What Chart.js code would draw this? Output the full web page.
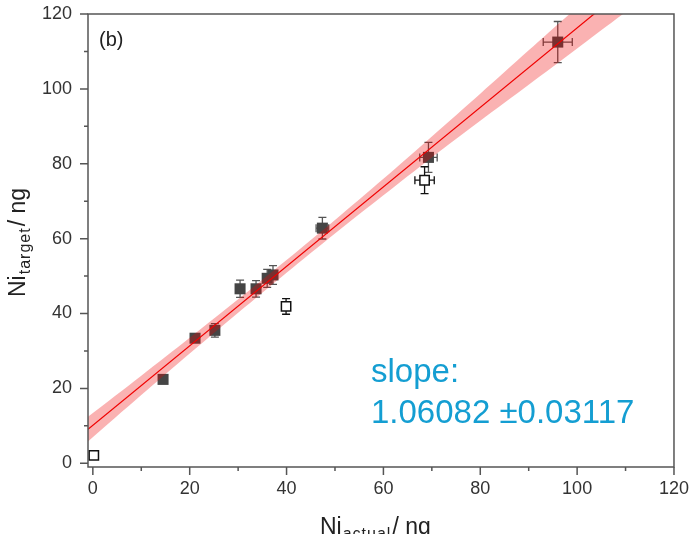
<!DOCTYPE html>
<html>
<head>
<meta charset="utf-8">
<script src="https://cdn.jsdelivr.net/npm/chart.js@4/dist/chart.umd.min.js"></script>
<style>
    html, body { margin: 0; padding: 0; background: #fff; }
    #wrap { width: 692px; height: 534px; position: relative; }
</style>
</head>
<body>
<div id="wrap"><canvas id="grafico" width="692" height="534"></canvas></div>
<script>
// valores
const cheiosX = [14.5, 21.1, 25.2, 30.4, 33.7, 36.0, 37.2, 47.4, 69.3, 96.0];
const cheiosY = [22.4, 33.4, 35.5, 46.6, 46.6, 49.4, 50.3, 62.8, 81.7, 112.5];
const cheiosErrX = [0.5, 0.5, 0.5, 0.5, 0.5, 0.8, 0.8, 1.3, 1.8, 3.0];
const cheiosErrY = [0.8, 1.0, 1.8, 2.3, 2.2, 2.4, 2.5, 2.9, 4.0, 5.5];

const vaziosX = [0.2, 39.9, 68.5];
const vaziosY = [2.1, 41.9, 75.6];
const vaziosErrX = [0.9, 0.5, 2.0];
const vaziosErrY = [0.8, 2.1, 3.6];

const ajusteX = [-1, 110];
const ajusteY = [9.1, 126.9];

const bandaX = [-1, 10, 20, 30, 40, 50, 60, 70, 80, 90, 100, 110];
const bandaSup = [12.4, 23.4, 33.5, 43.8, 54.3, 65.0, 76.0, 87.3, 98.7, 110.3, 121.8, 133.3];
const bandaInf = [5.8, 18.2, 29.3, 40.2, 50.9, 61.4, 71.6, 81.7, 91.5, 101.1, 110.8, 120.5];

const ticksMaiores = [0, 20, 40, 60, 80, 100, 120];
const ticksMenores = [10, 30, 50, 70, 90, 110];

const textoInclinacao = ['slope:', '1.06082 \u00b10.03117'];

function pontos(xs, ys) {
    return xs.map((x, i) => ({x: x, y: ys[i]}));
}

const fonte = '"Liberation Sans", Arial, sans-serif';

// barras de erro, eixos e textos
const extras = {
    id: 'extras',
    beforeDatasetsDraw(chart) {
        const ctx = chart.ctx;
        const sx = chart.scales.x, sy = chart.scales.y;
        const grupos = [
            {xs: cheiosX, ys: cheiosY, ex: cheiosErrX, ey: cheiosErrY, cor: '#555'},
            {xs: vaziosX, ys: vaziosY, ex: vaziosErrX, ey: vaziosErrY, cor: '#111'}
        ];
        ctx.save();
        ctx.lineWidth = 1.3;
        grupos.forEach(g => {
            ctx.strokeStyle = g.cor;
            g.xs.forEach((x, i) => {
                const px = sx.getPixelForValue(x), py = sy.getPixelForValue(g.ys[i]);
                const y1 = sy.getPixelForValue(g.ys[i] + g.ey[i]);
                const y2 = sy.getPixelForValue(g.ys[i] - g.ey[i]);
                const x1 = sx.getPixelForValue(x - g.ex[i]);
                const x2 = sx.getPixelForValue(x + g.ex[i]);
                ctx.beginPath();
                ctx.moveTo(px, y1); ctx.lineTo(px, y2);
                ctx.moveTo(px - 4, y1); ctx.lineTo(px + 4, y1);
                ctx.moveTo(px - 4, y2); ctx.lineTo(px + 4, y2);
                ctx.moveTo(x1, py); ctx.lineTo(x2, py);
                ctx.moveTo(x1, py - 4); ctx.lineTo(x1, py + 4);
                ctx.moveTo(x2, py - 4); ctx.lineTo(x2, py + 4);
                ctx.stroke();
            });
        });
        ctx.restore();
    },
    afterDraw(chart) {
        const ctx = chart.ctx;
        const a = chart.chartArea;
        const sx = chart.scales.x, sy = chart.scales.y;
        ctx.save();
        ctx.strokeStyle = '#555';
        ctx.lineWidth = 1.5;
        ctx.strokeRect(a.left, a.top, a.right - a.left, a.bottom - a.top);

        ctx.beginPath();
        ticksMaiores.forEach(v => {
            const px = sx.getPixelForValue(v);
            ctx.moveTo(px, a.bottom); ctx.lineTo(px, a.bottom + 8);
            const py = sy.getPixelForValue(v);
            ctx.moveTo(a.left, py); ctx.lineTo(a.left - 8, py);
        });
        ticksMenores.forEach(v => {
            const px = sx.getPixelForValue(v);
            ctx.moveTo(px, a.bottom); ctx.lineTo(px, a.bottom + 4);
            const py = sy.getPixelForValue(v);
            ctx.moveTo(a.left, py); ctx.lineTo(a.left - 4, py);
        });
        ctx.stroke();

        ctx.fillStyle = '#222';
        ctx.font = '20px ' + fonte;
        ctx.textBaseline = 'alphabetic';
        ctx.fillText('(b)', 99, 46);

        // titulo do eixo x
        let x = 320;
        const base = 534;
        ctx.font = '23px ' + fonte;
        ctx.fillText('Ni', x, base);
        x += ctx.measureText('Ni').width + 1;
        ctx.font = '16px ' + fonte;
        ctx.letterSpacing = '1px';
        ctx.fillText('actual', x, base + 5);
        x += ctx.measureText('actual').width + 1;
        ctx.letterSpacing = '0px';
        ctx.font = '23px ' + fonte;
        ctx.fillText('/ ng', x, base);

        // titulo do eixo y
        ctx.save();
        ctx.translate(25, 297);
        ctx.rotate(-Math.PI / 2);
        let t = 0;
        ctx.font = '23px ' + fonte;
        ctx.fillText('Ni', t, 0);
        t += ctx.measureText('Ni').width + 1;
        ctx.font = '16px ' + fonte;
        ctx.letterSpacing = '1px';
        ctx.fillText('target', t, 5);
        t += ctx.measureText('target').width + 1;
        ctx.letterSpacing = '0px';
        ctx.font = '23px ' + fonte;
        ctx.fillText('/ ng', t, 0);
        ctx.restore();

        ctx.fillStyle = 'rgb(20, 158, 210)';
        ctx.font = '33px ' + fonte;
        ctx.fillText(textoInclinacao[0], 371, 382);
        ctx.fillText(textoInclinacao[1], 371, 423);
        ctx.restore();
    }
};

const ctxGrafico = document.getElementById('grafico').getContext('2d');

new Chart(ctxGrafico, {
    type: 'scatter',
    data: {
        datasets: [
            {
                type: 'line',
                data: pontos(ajusteX, ajusteY),
                borderColor: '#f00000',
                borderWidth: 1.2,
                pointRadius: 0,
                fill: false
            },
            {
                type: 'line',
                data: pontos(bandaX, bandaInf),
                borderWidth: 0,
                borderColor: 'rgba(0,0,0,0)',
                pointRadius: 0,
                tension: 0.3,
                fill: false
            },
            {
                type: 'line',
                data: pontos(bandaX, bandaSup),
                borderWidth: 0,
                borderColor: 'rgba(0,0,0,0)',
                pointRadius: 0,
                tension: 0.3,
                backgroundColor: 'rgba(240, 0, 0, 0.3)',
                fill: '-1'
            },
            {
                data: pontos(cheiosX, cheiosY),
                pointStyle: 'rect',
                pointRadius: 7.8,
                backgroundColor: '#454545',
                borderColor: '#454545',
                borderWidth: 0
            },
            {
                data: pontos(vaziosX, vaziosY),
                pointStyle: 'rect',
                pointRadius: 6.6,
                backgroundColor: '#ffffff',
                borderColor: '#111',
                borderWidth: 1.5
            }
        ]
    },
    options: {
        responsive: false,
        animation: false,
        layout: { padding: { top: 14, right: 10, left: 0, bottom: 0 } },
        plugins: {
            legend: { display: false },
            tooltip: { enabled: false }
        },
        scales: {
            x: {
                type: 'linear',
                min: -1,
                max: 120,
                grid: { display: false },
                border: { display: false },
                afterBuildTicks: s => { s.ticks = ticksMaiores.map(v => ({value: v})); },
                afterFit: s => { s.height = 67; },
                ticks: {
                    padding: 3,
                    color: '#333',
                    font: { family: fonte, size: 18 }
                }
            },
            y: {
                type: 'linear',
                min: -1,
                max: 120,
                grid: { display: false },
                border: { display: false },
                afterBuildTicks: s => { s.ticks = ticksMaiores.map(v => ({value: v})); },
                afterFit: s => { s.width = 88; s.paddingTop = 0; s.paddingBottom = 0; },
                ticks: {
                    padding: 8,
                    color: '#333',
                    font: { family: fonte, size: 18 }
                }
            }
        }
    },
    plugins: [extras]
});
</script>
</body>
</html>
